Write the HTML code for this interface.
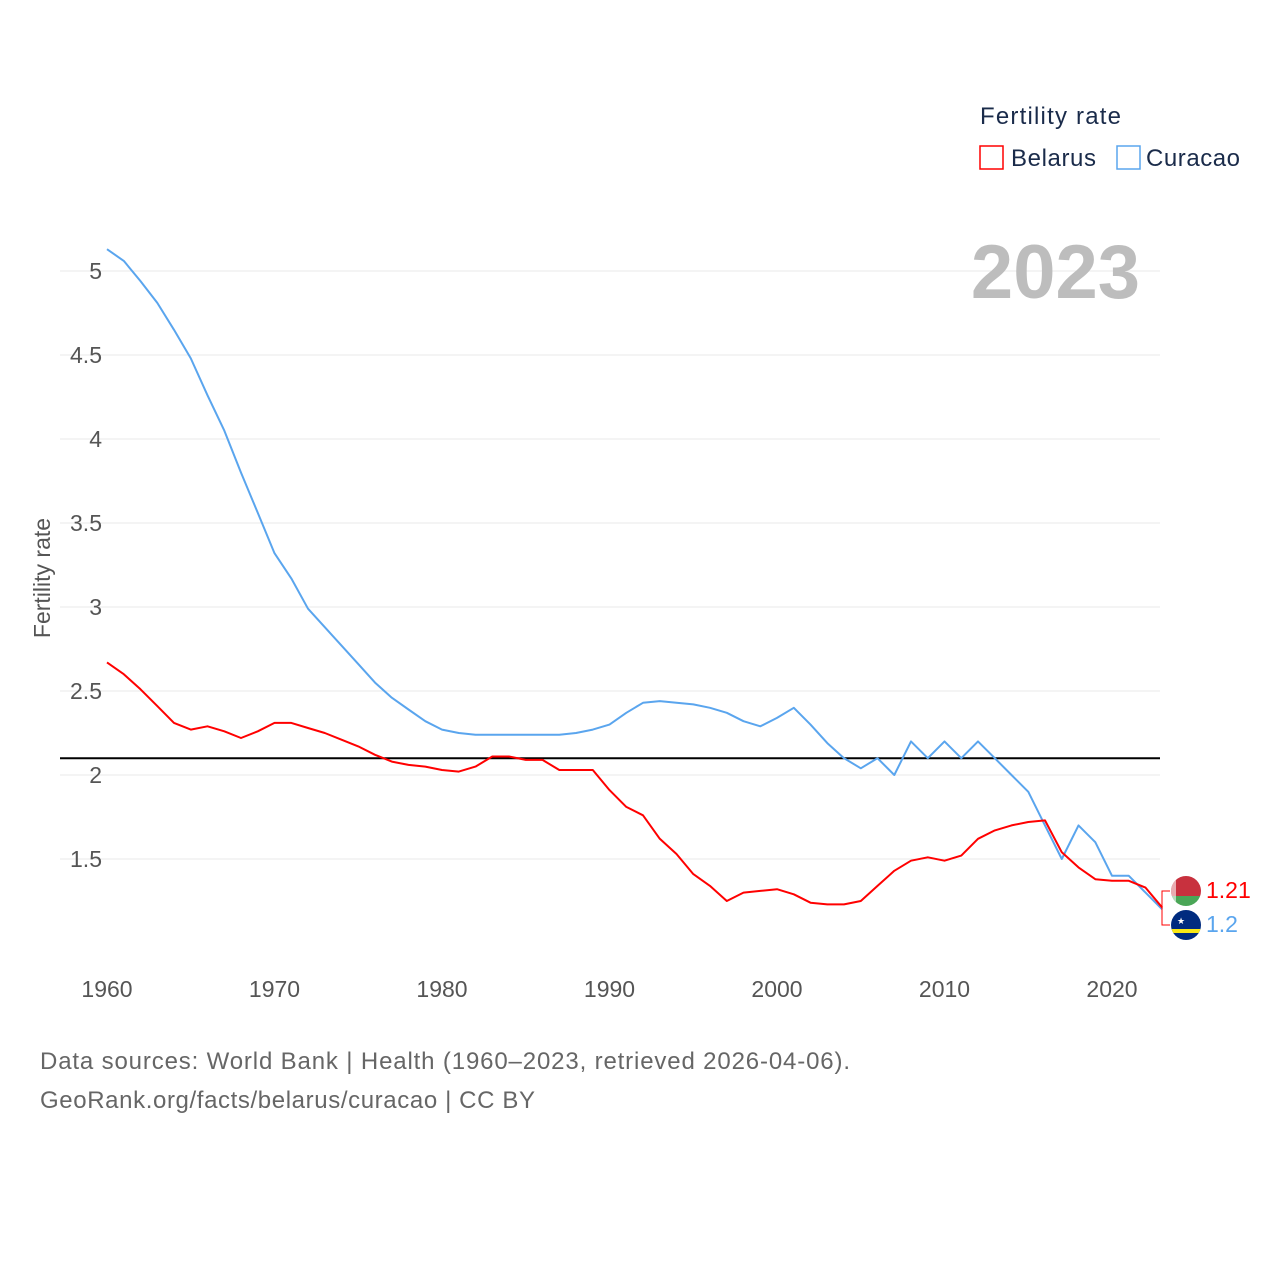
<!DOCTYPE html>
<html><head><meta charset="utf-8"><style>
body{margin:0;background:#fff;font-family:"Liberation Sans",sans-serif}
svg text{font-family:"Liberation Sans",sans-serif}
</style></head><body>
<svg width="1280" height="1280" xmlns="http://www.w3.org/2000/svg">
<g id="grid"></g>
<g id="yt"></g>
<g id="xt"></g>
<text x="50" y="578" transform="rotate(-90 50 578)" text-anchor="middle" font-size="23" fill="#555">Fertility rate</text>
<text x="1140" y="298" text-anchor="end" font-size="76" font-weight="bold" fill="#bdbdbd">2023</text>
<g id="series"></g>
<text x="980" y="124" font-size="24" fill="#1a2b4a" textLength="141">Fertility rate</text>
<g><rect x="980" y="146" width="23" height="23" fill="none" stroke="#ff0000" stroke-width="1.5"/><text x="1011" y="166" font-size="24" fill="#1a2b4a" textLength="85">Belarus</text></g>
<g><rect x="1117" y="146" width="23" height="23" fill="none" stroke="#5aa5ee" stroke-width="1.5"/><text x="1146" y="166" font-size="24" fill="#1a2b4a" textLength="94">Curacao</text></g>
<g><clipPath id="c1"><circle cx="1186" cy="891" r="15"/></clipPath><g clip-path="url(#c1)"><rect x="1171" y="876" width="30" height="20" fill="#c8313e"/><rect x="1171" y="896" width="30" height="10" fill="#4aa657"/><rect x="1171" y="876" width="5" height="30" fill="#fff" opacity="0.6"/></g></g>
<g><clipPath id="c2"><circle cx="1186" cy="925" r="15"/></clipPath><g clip-path="url(#c2)"><rect x="1171" y="910" width="30" height="30" fill="#002b7f"/><rect x="1171" y="929" width="30" height="4" fill="#f9e814"/><text x="1177" y="924" font-size="9" fill="#fff">★</text></g></g>
<path d="M1162 905 L1162 891 L1170 891 M1162 905 L1162 925 L1170 925" fill="none" stroke="#ff0000" stroke-width="1"/>
<text x="1206" y="898" font-size="23" fill="#ff0000">1.21</text>
<text x="1206" y="932" font-size="23" fill="#5aa5ee">1.2</text>
<text x="40" y="1069" font-size="24" fill="#666" textLength="810">Data sources: World Bank | Health (1960–2023, retrieved 2026-04-06).</text>
<text x="40" y="1108" font-size="24" fill="#666" textLength="495">GeoRank.org/facts/belarus/curacao | CC BY</text>
</svg>
<script>
const startYear = 1960;
const yTicks = [1.5,2,2.5,3,3.5,4,4.5,5];
const xTicks = [1960,1970,1980,1990,2000,2010,2020];
const replacement = 2.1;
const belarus = [2.67,2.60,2.51,2.41,2.31,2.27,2.29,2.26,2.22,2.26,2.31,2.31,2.28,2.25,2.21,2.17,2.12,2.08,2.06,2.05,2.03,2.02,2.05,2.11,2.11,2.09,2.09,2.03,2.03,2.03,1.91,1.81,1.76,1.62,1.53,1.41,1.34,1.25,1.30,1.31,1.32,1.29,1.24,1.23,1.23,1.25,1.34,1.43,1.49,1.51,1.49,1.52,1.62,1.67,1.70,1.72,1.73,1.54,1.45,1.38,1.37,1.37,1.33,1.21];
const curacao = [5.13,5.06,4.94,4.81,4.65,4.48,4.26,4.05,3.80,3.56,3.32,3.17,2.99,2.88,2.77,2.66,2.55,2.46,2.39,2.32,2.27,2.25,2.24,2.24,2.24,2.24,2.24,2.24,2.25,2.27,2.30,2.37,2.43,2.44,2.43,2.42,2.40,2.37,2.32,2.29,2.34,2.40,2.30,2.19,2.10,2.04,2.10,2.00,2.20,2.10,2.20,2.10,2.20,2.10,2.00,1.90,1.70,1.50,1.70,1.60,1.40,1.40,1.30,1.20];
const NS="http://www.w3.org/2000/svg";
const xs = yr => 107 + (yr-1960)*16.75;
const ys = v => 775 - (v-2)*168;
function mk(t,a,p){const e=document.createElementNS(NS,t);for(const k in a)e.setAttribute(k,a[k]);document.getElementById(p).appendChild(e);return e;}
yTicks.forEach(v=>{
  const l=mk('line',{x1:60,x2:1160,y1:ys(v),y2:ys(v),stroke:'#e8e8e8','stroke-width':1},'grid');
  
  
  const t=mk('text',{x:102,y:ys(v)+8,'text-anchor':'end','font-size':23,fill:'#555'},'yt');
  t.textContent=v;
  
  
});
xTicks.forEach(v=>{
  const t=mk('text',{x:xs(v),y:997,'text-anchor':'middle','font-size':23,fill:'#555'},'xt');
  t.textContent=v;
  
  
});
const rl=mk('line',{x1:60,x2:1160,y1:ys(replacement),y2:ys(replacement),stroke:'#000','stroke-width':2},'series');


function line(d,c,n){
  const p=mk('path',{d:d.map((v,i)=>(i?'L':'M')+xs(startYear+i).toFixed(1)+' '+ys(v).toFixed(1)).join(' '),fill:'none',stroke:c,'stroke-width':2,'stroke-linejoin':'round'},'series');
  
  
}
line(curacao,'#5aa5ee','line-curacao');
line(belarus,'#ff0000','line-belarus');
</script>
</body></html>
